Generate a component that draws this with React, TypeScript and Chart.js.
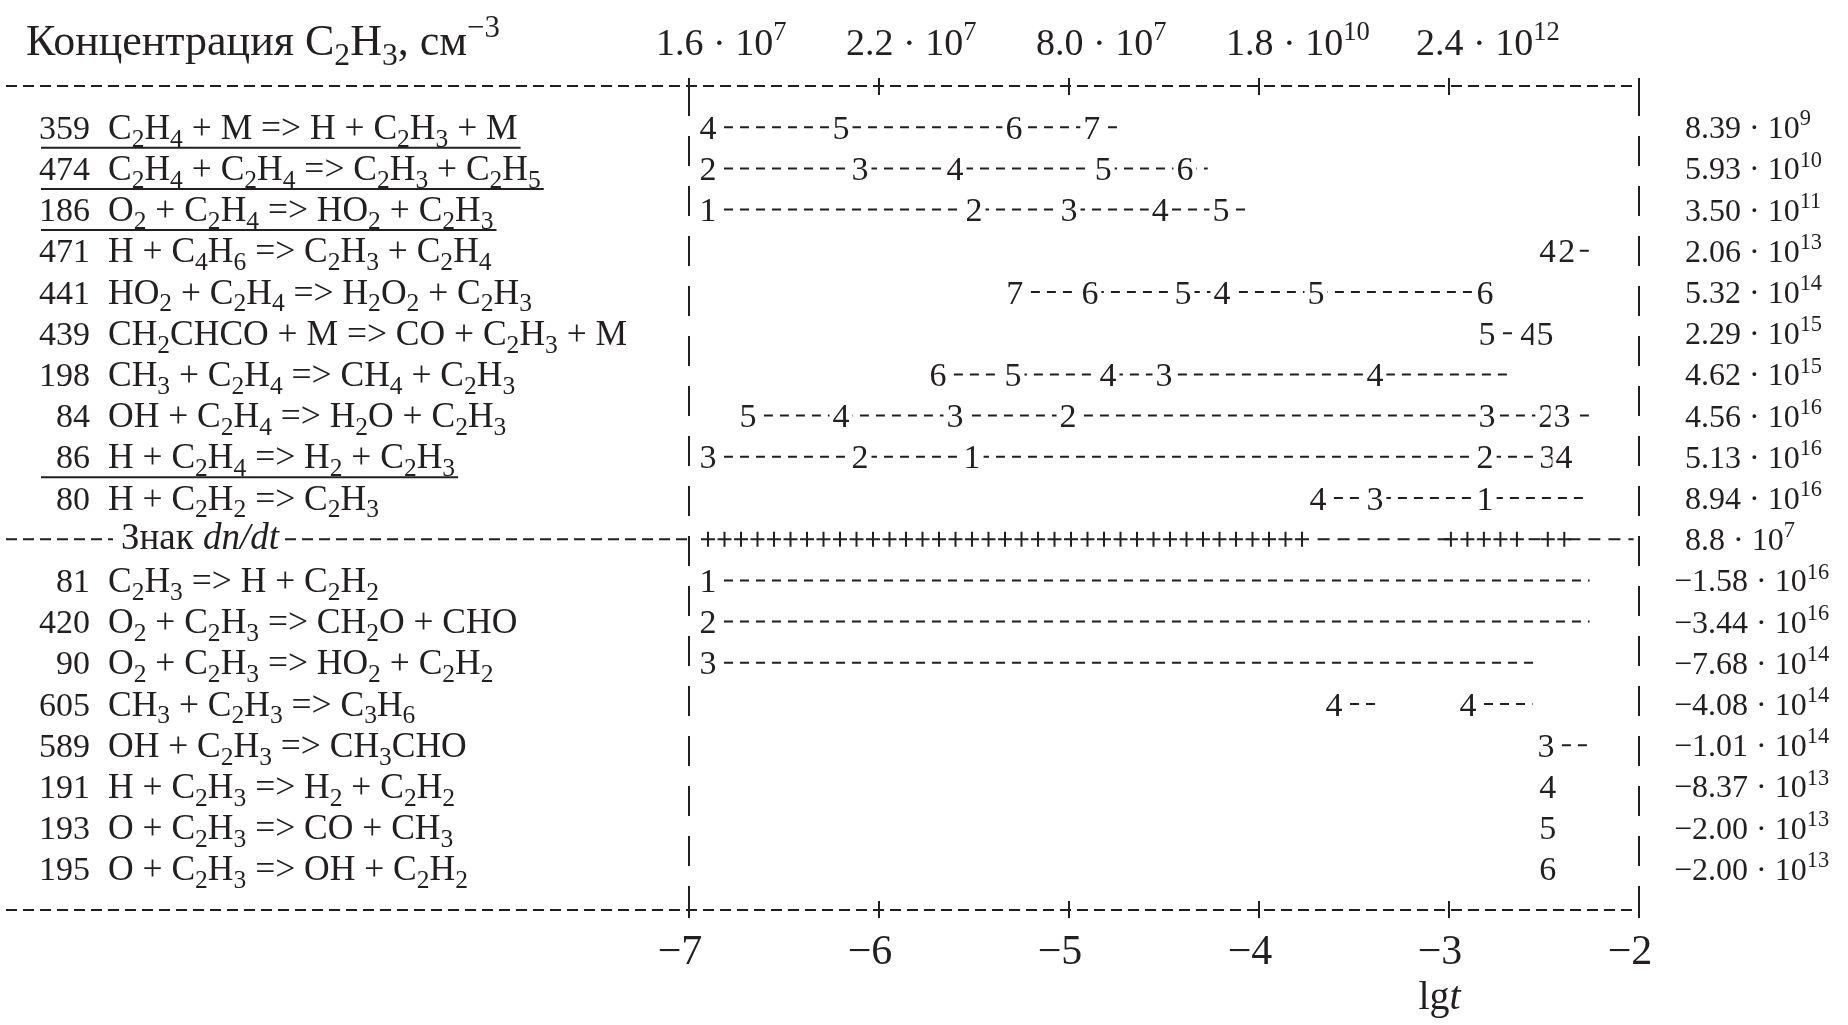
import React, { useEffect, useRef } from "react";
import { Chart, registerables } from "chart.js";
Chart.register(...registerables);

const W = 1848;
const H = 1025;
const FONT = '"Liberation Serif", "Times New Roman", serif';
const INK = "#231f20";

// ---------- data ----------
const headerText = "Концентрация C_2H_3, см^{−3}";
const concTicks = [-7, -6, -5, -4, -3];
const concLabels = ["1.6 · 10^{7}", "2.2 · 10^{7}", "8.0 · 10^{7}", "1.8 · 10^{10}", "2.4 · 10^{12}"];
const axisTicks = [-7, -6, -5, -4, -3, -2];
const axisTickLabels = ["−7", "−6", "−5", "−4", "−3", "−2"];
const axisTitle = "lg~t~";

const reactionIds = ["359", "474", "186", "471", "441", "439", "198", "84", "86", "80",
  "81", "420", "90", "605", "589", "191", "193", "195"];
const reactionTexts = [
  "C_2H_4 + M => H + C_2H_3 + M",
  "C_2H_4 + C_2H_4 => C_2H_3 + C_2H_5",
  "O_2 + C_2H_4 => HO_2 + C_2H_3",
  "H + C_4H_6 => C_2H_3 + C_2H_4",
  "HO_2 + C_2H_4 => H_2O_2 + C_2H_3",
  "CH_2CHCO + M => CO + C_2H_3 + M",
  "CH_3 + C_2H_4 => CH_4 + C_2H_3",
  "OH + C_2H_4 => H_2O + C_2H_3",
  "H + C_2H_4 => H_2 + C_2H_3",
  "H + C_2H_2 => C_2H_3",
  "C_2H_3 => H + C_2H_2",
  "O_2 + C_2H_3 => CH_2O + CHO",
  "O_2 + C_2H_3 => HO_2 + C_2H_2",
  "CH_3 + C_2H_3 => C_3H_6",
  "OH + C_2H_3 => CH_3CHO",
  "H + C_2H_3 => H_2 + C_2H_2",
  "O + C_2H_3 => CO + CH_3",
  "O + C_2H_3 => OH + C_2H_2",
];
const rowIndex = [0, 1, 2, 3, 4, 5, 6, 7, 8, 9, 11, 12, 13, 14, 15, 16, 17, 18];
const underlinedIds = ["359", "474", "186", "86"];
const rateLabels = [
  "8.39 · 10^{9}", "5.93 · 10^{10}", "3.50 · 10^{11}", "2.06 · 10^{13}", "5.32 · 10^{14}",
  "2.29 · 10^{15}", "4.62 · 10^{15}", "4.56 · 10^{16}", "5.13 · 10^{16}", "8.94 · 10^{16}",
  "−1.58 · 10^{16}", "−3.44 · 10^{16}", "−7.68 · 10^{14}", "−4.08 · 10^{14}", "−1.01 · 10^{14}",
  "−8.37 · 10^{13}", "−2.00 · 10^{13}", "−2.00 · 10^{13}",
];

// rank tracks: segments of [lg t, rank label] ("" = end of dashed line)
type Pt = [number, string];
const track359: Pt[][] = [[[-6.9, "4"], [-6.2, "5"], [-5.29, "6"], [-4.88, "7"], [-4.74, ""]]];
const track474: Pt[][] = [[[-6.9, "2"], [-6.1, "3"], [-5.6, "4"], [-4.82, "5"], [-4.39, "6"], [-4.27, ""]]];
const track186: Pt[][] = [[[-6.9, "1"], [-5.5, "2"], [-5.0, "3"], [-4.52, "4"], [-4.2, "5"], [-4.06, ""]]];
const track471: Pt[][] = [[[-2.48, "4"], [-2.38, "2"], [-2.25, ""]]];
const track441: Pt[][] = [[[-5.285, "7"], [-4.89, "6"], [-4.4, "5"], [-4.195, "4"], [-3.7, "5"], [-2.81, "6"]]];
const track439: Pt[][] = [[[-2.8, "5"], [-2.58, "4"], [-2.495, "5"]]];
const track198: Pt[][] = [[[-5.69, "6"], [-5.295, "5"], [-4.795, "4"], [-4.5, "3"], [-3.39, "4"], [-2.67, ""]]];
const track84: Pt[][] = [[[-6.69, "5"], [-6.2, "4"], [-5.6, "3"], [-5.005, "2"], [-2.8, "3"], [-2.485, "2"], [-2.405, "3"], [-2.24, ""]]];
const track86: Pt[][] = [[[-6.9, "3"], [-6.1, "2"], [-5.51, "1"], [-2.81, "2"], [-2.48, "3"], [-2.395, "4"]]];
const track80: Pt[][] = [[[-3.69, "4"], [-3.39, "3"], [-2.81, "1"], [-2.26, ""]]];
const track81: Pt[][] = [[[-6.9, "1"], [-2.26, ""]]];
const track420: Pt[][] = [[[-6.9, "2"], [-2.26, ""]]];
const track90: Pt[][] = [[[-6.9, "3"], [-2.55, ""]]];
const track605: Pt[][] = [[[-3.605, "4"], [-3.36, ""]], [[-2.9, "4"], [-2.56, ""]]];
const track589: Pt[][] = [[[-2.49, "3"], [-2.27, ""]]];
const track191: Pt[][] = [[[-2.48, "4"]]];
const track193: Pt[][] = [[[-2.48, "5"]]];
const track195: Pt[][] = [[[-2.48, "6"]]];
const rankTracks = [track359, track474, track186, track471, track441, track439, track198, track84, track86, track80,
  track81, track420, track90, track605, track589, track191, track193, track195];

// sign of dn/dt row
const signRowIndex = 10;
const signTitle = "Знак ~dn/dt~";
const signRateLabel = "8.8 · 10^{7}";
const signRuns: [string, number, number][] = [
  ["+", -6.9, -3.7],
  ["-", -3.66, -3.02],
  ["+", -2.99, -2.6],
  ["-", -2.55, -2.51],
  ["+", -2.48, -2.39],
  ["-", -2.34, -2.06],
];

// ---------- rich text ----------
type Tok = { t: string; mode: "n" | "sub" | "sup"; it: boolean };
function parseRich(s: string): Tok[] {
  const out: Tok[] = [];
  let it = false;
  let buf = "";
  let i = 0;
  const flush = () => {
    if (buf) out.push({ t: buf, mode: "n", it });
    buf = "";
  };
  while (i < s.length) {
    const c = s[i];
    if (c === "_" || c === "^") {
      flush();
      let content = "";
      if (s[i + 1] === "{") {
        const j = s.indexOf("}", i + 2);
        content = s.slice(i + 2, j);
        i = j + 1;
      } else {
        content = s[i + 1];
        i += 2;
      }
      out.push({ t: content, mode: c === "_" ? "sub" : "sup", it });
      continue;
    }
    if (c === "~") {
      flush();
      it = !it;
      i++;
      continue;
    }
    buf += c;
    i++;
  }
  flush();
  return out;
}
const fontOf = (px: number, it: boolean) => `${it ? "italic " : ""}${px}px ${FONT}`;
function drawRich(ctx: CanvasRenderingContext2D, s: string, x: number, y: number, size: number, align: "left" | "right" | "center" = "left") {
  const parts = parseRich(s).map((t) => {
    const fs = t.mode === "n" ? size : t.mode === "sub" ? size * 0.72 : size * 0.7;
    ctx.font = fontOf(fs, t.it);
    return { ...t, fs, tw: ctx.measureText(t.t).width };
  });
  const w = parts.reduce((a, p) => a + p.tw, 0);
  let cx = align === "left" ? x : align === "right" ? x - w : x - w / 2;
  const x0 = cx;
  ctx.textAlign = "left";
  ctx.textBaseline = "alphabetic";
  parts.forEach((p) => {
    ctx.font = fontOf(p.fs, p.it);
    const dy = p.mode === "sub" ? size * 0.22 : p.mode === "sup" ? -size * 0.4 : 0;
    ctx.fillText(p.t, cx, y + dy);
    cx += p.tw;
  });
  return { x0, x1: x0 + w };
}

// ---------- plugin ----------
const decor = {
  id: "decor",
  beforeDatasetsDraw(chart: any) {
    const ctx: CanvasRenderingContext2D = chart.ctx;
    const xs = chart.scales.x;
    const ys = chart.scales.y;
    const xL = xs.getPixelForValue(-7);
    const xR = xs.getPixelForValue(-2);
    const yTop = ys.getPixelForValue(-1);
    const yBot = ys.getPixelForValue(19);
    const ySign = ys.getPixelForValue(signRowIndex);
    const hl = (a: number, b: number, y: number) => {
      ctx.beginPath();
      ctx.moveTo(a, y);
      ctx.lineTo(b, y);
      ctx.stroke();
    };
    const vl = (x: number, a: number, b: number) => {
      ctx.beginPath();
      ctx.moveTo(x, a);
      ctx.lineTo(x, b);
      ctx.stroke();
    };
    ctx.save();
    ctx.strokeStyle = INK;
    ctx.fillStyle = INK;
    ctx.lineWidth = 2;
    ctx.setLineDash([11, 6]);
    hl(6, xR, yTop);
    hl(6, xR, yBot);
    // sign row title with dashed line around it
    const t = drawRich(ctx, signTitle, 200, ySign + 10, 37, "center");
    hl(6, t.x0 - 8, ySign);
    hl(t.x1 + 6, xL, ySign);
    ctx.setLineDash([30, 20]);
    vl(xL, yTop, yBot);
    vl(xR, yTop, yBot);
    ctx.setLineDash([]);
    axisTicks.forEach((v) => {
      const px = xs.getPixelForValue(v);
      vl(px, yTop - 8, yTop + 9);
      vl(px, yBot - 9, yBot + 8);
    });
    ctx.restore();
  },
  afterDatasetsDraw(chart: any) {
    const ctx: CanvasRenderingContext2D = chart.ctx;
    const xs = chart.scales.x;
    const ys = chart.scales.y;
    const yBot = ys.getPixelForValue(19);
    const ySign = ys.getPixelForValue(signRowIndex);
    ctx.save();
    ctx.fillStyle = INK;
    ctx.strokeStyle = INK;

    // rank labels at data points
    chart.data.datasets.forEach((ds: any, di: number) => {
      const meta = chart.getDatasetMeta(di);
      meta.data.forEach((el: any, i: number) => {
        const lab = ds.rankLabels[i];
        if (!lab) return;
        ctx.font = fontOf(34, false);
        const w = ctx.measureText(lab).width;
        ctx.fillStyle = "#fff";
        ctx.fillRect(el.x - w / 2 - 3, el.y - 14, w + 6, 28);
        ctx.fillStyle = INK;
        ctx.textAlign = "center";
        ctx.textBaseline = "alphabetic";
        ctx.fillText(lab, el.x, el.y + 11.5);
      });
    });

    // sign row
    ctx.lineWidth = 2;
    signRuns.forEach(([sg, a, b]) => {
      const pa = xs.getPixelForValue(a);
      const pb = xs.getPixelForValue(b);
      if (sg === "+") {
        const step = 16.5;
        const n = Math.max(1, Math.floor((pb - pa) / step) + 1);
        for (let k = 0; k < n; k++) {
          const cx = pa + k * step;
          ctx.beginPath();
          ctx.moveTo(cx - 7, ySign);
          ctx.lineTo(cx + 7, ySign);
          ctx.moveTo(cx, ySign - 7.5);
          ctx.lineTo(cx, ySign + 7.5);
          ctx.stroke();
        }
      } else {
        ctx.setLineDash([12, 8]);
        ctx.beginPath();
        ctx.moveTo(pa - 6, ySign);
        ctx.lineTo(pb + 6, ySign);
        ctx.stroke();
        ctx.setLineDash([]);
      }
    });

    // left labels and right values
    reactionIds.forEach((id, r) => {
      const y = ys.getPixelForValue(rowIndex[r]);
      ctx.font = fontOf(34, false);
      ctx.textAlign = "right";
      ctx.textBaseline = "alphabetic";
      ctx.fillText(id, 90, y + 11.5);
      const tx = drawRich(ctx, reactionTexts[r], 108, y + 11.5, 35.5, "left");
      if (underlinedIds.includes(id)) {
        ctx.lineWidth = 2;
        ctx.beginPath();
        ctx.moveTo(41, y + 20.5);
        ctx.lineTo(tx.x1 + 3, y + 20.5);
        ctx.stroke();
      }
      const v = rateLabels[r];
      drawRich(ctx, v, v.startsWith("−") ? 1674 : 1685, y + 11, 32, "left");
    });
    drawRich(ctx, signRateLabel, 1685, ySign + 11, 32, "left");

    // header and concentration labels
    drawRich(ctx, headerText, 26, 55, 44, "left");
    concTicks.forEach((v, i) => {
      drawRich(ctx, concLabels[i], xs.getPixelForValue(v) - 33, 55, 38, "left");
    });

    // bottom axis labels
    axisTicks.forEach((v, i) => {
      drawRich(ctx, axisTickLabels[i], xs.getPixelForValue(v) - 9, yBot + 54, 42, "center");
    });
    drawRich(ctx, axisTitle, xs.getPixelForValue(-3.05), yBot + 99, 40, "center");
    ctx.restore();
  },
};

export default function App() {
  const ref = useRef<HTMLCanvasElement>(null);
  useEffect(() => {
    const canvas = ref.current!;
    const datasets = reactionIds.map((id, r) => {
      const pts: any[] = [];
      const labs: string[] = [];
      rankTracks[r].forEach((seg, k) => {
        if (k > 0) {
          pts.push({ x: (seg[0][0] + pts[pts.length - 1].x) / 2, y: null });
          labs.push("");
        }
        seg.forEach(([x, l]) => {
          pts.push({ x, y: rowIndex[r] });
          labs.push(l);
        });
      });
      return {
        label: id,
        data: pts,
        rankLabels: labs,
        borderColor: INK,
        borderWidth: 2,
        borderDash: [9, 7],
        pointRadius: 0,
        pointHoverRadius: 0,
        fill: false,
        spanGaps: false,
        tension: 0,
      } as any;
    });
    const chart = new Chart(canvas, {
      type: "line",
      data: { datasets },
      options: {
        animation: false,
        responsive: false,
        maintainAspectRatio: false,
        devicePixelRatio: 1,
        events: [],
        layout: { padding: { left: 689, right: W - 1639, top: 86, bottom: H - 910 } },
        scales: {
          x: { type: "linear", min: -7, max: -2, display: false },
          y: { type: "linear", min: -1, max: 19, reverse: true, display: false },
        },
        plugins: { legend: { display: false }, tooltip: { enabled: false } },
      },
      plugins: [decor],
    });
    return () => chart.destroy();
  }, []);
  return (
    <div style={{ position: "fixed", left: 0, top: 0, width: W, height: H, background: "#fff" }}>
      <canvas ref={ref} width={W} height={H} style={{ width: W, height: H, display: "block" }} />
    </div>
  );
}
